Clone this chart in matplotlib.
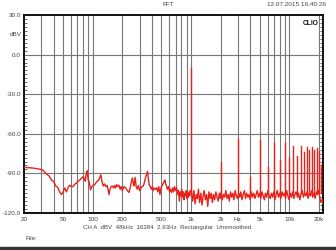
import matplotlib
matplotlib.use("Agg")
import matplotlib.pyplot as plt
from matplotlib.patches import Rectangle
from matplotlib.ticker import FixedLocator, MultipleLocator, NullFormatter

plt.rcParams['font.family'] = ['Liberation Sans', 'DejaVu Sans']

# FFT trace below the fundamental (Hz, dBV)
low_f = [20, 25, 29, 31, 33, 34, 36, 38, 40, 42,
         44, 46, 48, 50, 52, 54, 56, 58, 61, 63,
         66, 68, 71, 74, 77, 80, 82, 84, 86, 88,
         90, 92, 95, 98, 101, 105, 108, 111, 115, 118,
         121, 124, 128, 132, 136, 140, 144, 146, 150, 154,
         158, 163, 167, 171, 176, 180, 185, 190, 195, 200,
         208, 216, 225, 234, 242, 248, 253, 258, 263, 270,
         277, 284, 292, 300, 310, 318, 327, 335, 345, 355,
         361, 368, 375, 385, 395, 405, 413, 425, 435, 447,
         458, 470, 483, 495, 510, 525, 535, 543, 552, 563,
         575, 590, 605, 620, 634, 650, 665, 680, 698, 715,
         730, 745, 761, 775, 790, 805, 820, 835, 850, 865,
         880, 895, 910, 925, 940, 955, 970, 985]
low_db = [-85.4, -86, -86.8, -87.5, -89.5, -90.5, -92, -95, -96, -99.5,
          -100.5, -104, -106, -104, -101, -104, -101, -99, -100, -100,
          -98, -97.5, -96, -95, -93.5, -92.5, -94, -96, -90, -88,
          -95, -96.5, -102.5, -100, -99, -98.5, -97, -96, -95, -93,
          -91, -96, -99.5, -98, -100, -99, -103, -106, -102, -100,
          -99.5, -101, -99, -101, -98.5, -100, -99, -102, -100, -103,
          -100, -101, -103, -104.5, -100, -96, -93.5, -97, -99.5, -93,
          -100, -102, -99, -103, -101, -100, -99.5, -97, -93, -90,
          -88.5, -94, -98.5, -100, -102, -100, -103, -101, -102, -101,
          -104, -100, -106, -101, -99, -97, -96, -95, -98, -99.5,
          -102, -100, -104, -102, -104.5, -101, -104, -100, -103, -101,
          -106, -103, -111, -104, -107, -102, -108, -104, -110, -105,
          -107, -103, -109, -105, -108, -104, -107, -103]

# noise floor above the fundamental
high_f = [1010, 1040, 1070, 1100, 1130, 1160, 1190, 1220, 1260, 1290,
          1330, 1360, 1400, 1440, 1480, 1520, 1560, 1600, 1650, 1690,
          1740, 1790, 1840, 1890, 1940, 1980, 2030, 2080, 2140, 2200,
          2260, 2320, 2390, 2450, 2520, 2590, 2660, 2730, 2810, 2880,
          2960, 3040, 3130, 3210, 3300, 3390, 3490, 3580, 3680, 3790,
          3890, 4000, 4110, 4230, 4350, 4470, 4590, 4720, 4850, 4990,
          5130, 5270, 5420, 5570, 5720, 5880, 6050, 6220, 6390, 6570,
          6750, 6940, 7140, 7340, 7540, 7750, 7970, 8190, 8420, 8660,
          8900, 9150, 9400, 9670, 9940, 10200, 10500, 10800, 11100, 11400,
          11700, 12100, 12400, 12800, 13100, 13500, 13900, 14300, 14700, 15100,
          15500, 15900, 16400, 16800, 17300, 17800, 18300, 18800, 19300, 19800,
          20300, 20900, 21500, 22000]
high_db = [-104, -111, -103, -113, -106, -109, -102, -112, -105, -114,
           -107, -103, -110, -106, -115, -104, -109, -105, -112, -106,
           -110, -104, -108, -111, -105, -109, -104, -110, -106, -108,
           -103, -109, -106, -111, -104, -108, -105, -110, -103, -107,
           -109, -105, -108, -104, -110, -106, -103, -109, -105, -108,
           -106, -110, -104, -108, -105, -109, -106, -103, -108, -105,
           -109, -104, -107, -110, -105, -108, -103, -107, -109, -105,
           -108, -104, -110, -106, -103, -108, -105, -109, -104, -107,
           -105, -109, -103, -107, -110, -105, -108, -104, -109, -106,
           -104, -108, -105, -110, -106, -103, -108, -105, -107, -104,
           -109, -105, -107, -103, -108, -105, -109, -104, -106, -103,
           -107, -112, -110, -113]

# fundamental and harmonics
harm_f = [1000, 2000, 3000, 4000, 5000, 6000, 7000, 8000, 9000, 10000,
          11000, 12000, 13000, 14000, 15000, 16000, 17000, 18000, 19000, 20000, 21000]
harm_db = [-10, -81, -64, -93, -65, -85, -67, -80, -67, -78,
           -69, -77, -69, -74, -70, -72, -70, -72, -71, -73, -84]

xtick_f = [20, 50, 100, 200, 500, 1000, 2000, 3000, 5000, 10000, 20000]
xtick_lab = ['20', '50', '100', '200', '500', '1k', '2k', 'Hz', '5k', '10k', '20k']
ytick_v = [30, 0, -30, -60, -90, -120]
ytick_lab = ['30.0', '0.0', '-30.0', '-60.0', '-90.0', '-120.0']

red = '#e8211b'
txt = '#444444'

fig = plt.figure(figsize=(3.36, 2.5), dpi=100)
ax = fig.add_axes([24 / 336, 37 / 250, 299 / 336, 198 / 250])

grid_f = [f * m for m in (10, 100, 1000) for f in range(2, 11)] + [20000]
for f in grid_f:
    if 20 < f < 22000:
        ax.axvline(f, color='#777777', lw=0.8, zorder=1)
for v in ytick_v[1:-1]:
    ax.axhline(v, color='#777777', lw=0.8, zorder=1)

ax.plot(low_f, low_db, color=red, lw=1.0, zorder=3)
ax.plot(high_f, high_db, color=red, lw=1.0, zorder=3)
for f, db in zip(harm_f, harm_db):
    ax.plot([f, f], [-105, db], color=red, lw=1.0, zorder=4)

ax.set_xscale('log')
ax.set_xlim(20, 22000)
ax.set_ylim(-120, 30)
ax.xaxis.set_major_locator(FixedLocator(xtick_f))
ax.xaxis.set_minor_formatter(NullFormatter())
ax.set_xticks(xtick_f, xtick_lab)
ax.set_yticks(ytick_v, ytick_lab)
ax.yaxis.set_minor_locator(MultipleLocator(3))
ax.tick_params(axis='x', which='both', length=0, labelsize=4.6, colors=txt, pad=3)
ax.tick_params(axis='y', which='major', length=0, labelsize=4.6, colors=txt, pad=2)
ax.tick_params(axis='y', which='minor', length=2, width=0.5, direction='in',
               left=True, right=True, color='#333333')
for s in ax.spines.values():
    s.set_linewidth(1.4)
    s.set_color('#111111')

ax.text(-0.008, 15, 'dBV', transform=ax.get_yaxis_transform(), ha='right',
        va='center', fontsize=4.6, color=txt)
ax.text(0.985, 0.975, 'CLIO', transform=ax.transAxes, ha='right', va='top',
        fontsize=4.8, fontweight='bold', color='#111111')

fig.text(168 / 336, 1 - 5 / 250, 'FFT', ha='center', va='center', fontsize=4.6, color=txt)
fig.text(326 / 336, 1 - 5 / 250, '12.07.2015 16:40:26', ha='right', va='center',
         fontsize=4.6, color=txt)
fig.text(167 / 336, 1 - 228 / 250,
         'CH A  dBV  48kHz  16384  2.93Hz  Rectangular  Unsmoothed',
         ha='center', va='center', fontsize=4.4, color=txt)
fig.text(25 / 336, 1 - 239 / 250, 'File:', ha='left', va='center', fontsize=4.6, color=txt)
fig.patches.append(Rectangle((0, 0), 1, 3 / 250, transform=fig.transFigure,
                             color='#333333', zorder=0))

fig.savefig('out.png', dpi=100)
